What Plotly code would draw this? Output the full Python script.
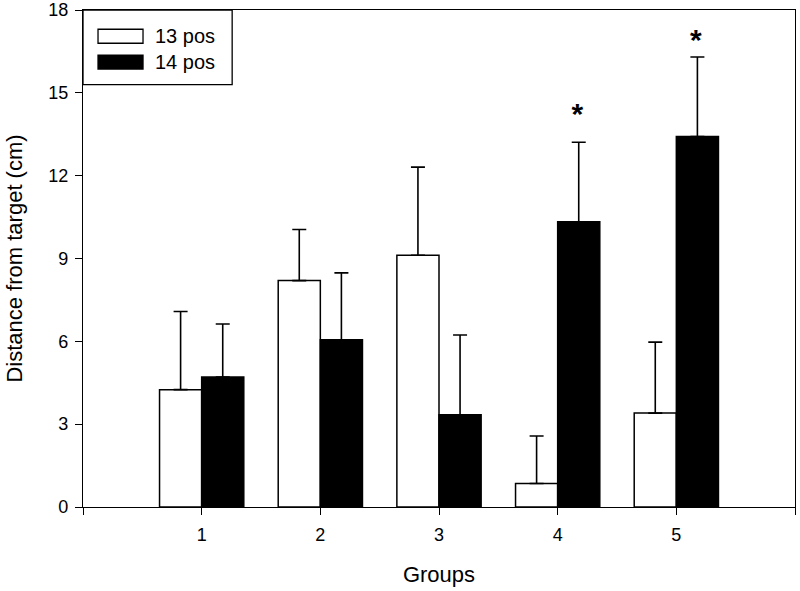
import plotly.graph_objects as go

groups = [1, 2, 3, 4, 5]
pos13 = [4.25, 8.2, 9.12, 0.85, 3.4]
pos13_err = [2.83, 1.85, 3.19, 1.72, 2.57]
pos14 = [4.71, 6.06, 3.34, 10.33, 13.42]
pos14_err = [1.92, 2.42, 2.89, 2.88, 2.88]
star_groups = [4, 5]
star_y = [14.15, 16.82]
legend_names = ["13 pos", "14 pos"]
yticks = [0, 3, 6, 9, 12, 15, 18]

font = "Liberation Sans, Arial, sans-serif"

fig = go.Figure()
fig.add_trace(go.Bar(
    x=groups, y=pos13, name=legend_names[0],
    marker=dict(color="white", line=dict(color="black", width=1.5)),
    error_y=dict(type="data", array=pos13_err, arrayminus=[0]*5, symmetric=False,
                 color="black", thickness=1.6, width=7),
    offsetgroup="a"))
fig.add_trace(go.Bar(
    x=groups, y=pos14, name=legend_names[1],
    marker=dict(color="black", line=dict(color="black", width=1.5)),
    error_y=dict(type="data", array=pos14_err, arrayminus=[0]*5, symmetric=False,
                 color="black", thickness=1.6, width=7),
    offsetgroup="b"))

# significance stars over the 14 pos bars (offset to the 14 pos bar centre)
fig.add_trace(go.Scatter(
    x=[g + 0.165 for g in star_groups], y=star_y, mode="text", text=["<b>*</b>", "<b>*</b>"],
    textfont=dict(size=30, color="black", family=font),
    xaxis="x2", showlegend=False, hoverinfo="skip"))

# manual legend (box, swatches, labels)
fig.add_shape(type="rect", xref="paper", yref="paper", x0=0, x1=0.2095, y0=0.8497, y1=1,
              line=dict(color="black", width=1.3), fillcolor="white")
for (yc, col), name in zip([(0.9472, "white"), (0.8952, "black")], legend_names):
    fig.add_shape(type="rect", xref="paper", yref="paper", x0=0.0211, x1=0.0843,
                  y0=yc - 0.0141, y1=yc + 0.0141,
                  line=dict(color="black", width=1.3), fillcolor=col)
    fig.add_annotation(xref="paper", yref="paper", x=0.0983, y=yc, text=name,
                       showarrow=False, xanchor="left", yanchor="middle",
                       font=dict(size=20, color="black", family=font))

fig.update_layout(
    width=800, height=591,
    margin=dict(l=83, r=5, t=10, b=84),
    paper_bgcolor="white", plot_bgcolor="white",
    barmode="group", bargap=0.29, bargroupgap=0,
    showlegend=False,
    font=dict(family=font, color="black", size=18),
    xaxis=dict(range=[0, 6], tickvals=[0, 1, 2, 3, 4, 5, 6],
               ticktext=["", "1", "2", "3", "4", "5", ""],
               ticks="outside", ticklen=7, tickwidth=1.3, tickcolor="black",
               ticklabelstandoff=4,
               showline=True, linecolor="black", linewidth=1.3, mirror=True,
               showgrid=False, zeroline=False, automargin=False,
               tickfont=dict(size=18),
               title=dict(text="Groups", font=dict(size=22), standoff=22)),
    xaxis2=dict(range=[0, 6], overlaying="x", visible=False),
    yaxis=dict(range=[0, 18], tickvals=yticks,
               ticks="outside", ticklen=7, tickwidth=1.3, tickcolor="black",
               ticklabelstandoff=3,
               showline=True, linecolor="black", linewidth=1.3, mirror=True,
               showgrid=False, zeroline=False, automargin=False,
               tickfont=dict(size=18),
               title=dict(text="Distance from target (cm)", font=dict(size=22), standoff=19)),
)

fig.write_html("out.html", config={"displayModeBar": False},
               post_script="document.body.style.margin='0';")
